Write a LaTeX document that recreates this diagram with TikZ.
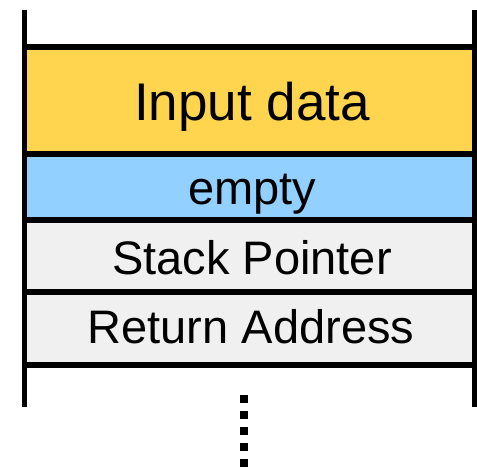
\documentclass[tikz,border=0pt]{standalone}
\usepackage{fontspec}
\setmainfont{Liberation Sans}
\definecolor{inputyellow}{HTML}{FFD54F}
\definecolor{emptyblue}{HTML}{92D0FF}
\definecolor{cellgray}{HTML}{F0F0F0}
\begin{document}
\begin{tikzpicture}[x=1pt,y=-1pt,
  cell/.style={inner sep=0pt, outer sep=0pt, minimum width=450pt, draw=none},
  celltext/.style={inner sep=0pt, anchor=base, text=black},
  wall/.style={line width=5pt, black},
  divider/.style={line width=6pt, black},
  dots/.style={line width=8pt, black, dash pattern=on 8pt off 8pt}]
\useasboundingbox (0,0) rectangle (477,468);
% cells
\node[cell, fill=inputyellow, minimum height=107.5pt] (input) at (249.5,100.75) {};
\node[cell, fill=emptyblue, minimum height=65.5pt] (empty) at (249.5,187.25) {};
\node[cell, fill=cellgray, minimum height=72pt] (sp) at (249.5,256) {};
\node[cell, fill=cellgray, minimum height=73pt] (ra) at (249.5,328.5) {};
% texts
\node[celltext] (tinput) at (252,121) {\fontsize{53}{60}\selectfont Input data};
\node[celltext] (tempty) at (252.5,205) {\fontsize{47}{54}\selectfont empty};
\node[celltext] (tsp) at (252,274.5) {\fontsize{47}{54}\selectfont Stack Pointer};
\node[celltext] (tra) at (251,343) {\fontsize{47}{54}\selectfont Return Address};
% walls
\coordinate (ltop) at (24.5,10);
\coordinate (lbot) at (24.5,407);
\coordinate (rtop) at (474.5,10);
\coordinate (rbot) at (474.5,407);
\draw[wall] (ltop) -- (lbot);
\draw[wall] (rtop) -- (rbot);
% dividers
\draw[divider] (input.north west) -- (input.north east);
\draw[divider] (input.south west) -- (input.south east);
\draw[divider] (empty.south west) -- (empty.south east);
\draw[divider] (sp.south west) -- (sp.south east);
\draw[divider] (ra.south west) -- (ra.south east);
% dotted continuation
\coordinate (dtop) at (244,395);
\coordinate (dbot) at (244,470);
\draw[dots] (dtop) -- (dbot);
\end{tikzpicture}
\end{document}
